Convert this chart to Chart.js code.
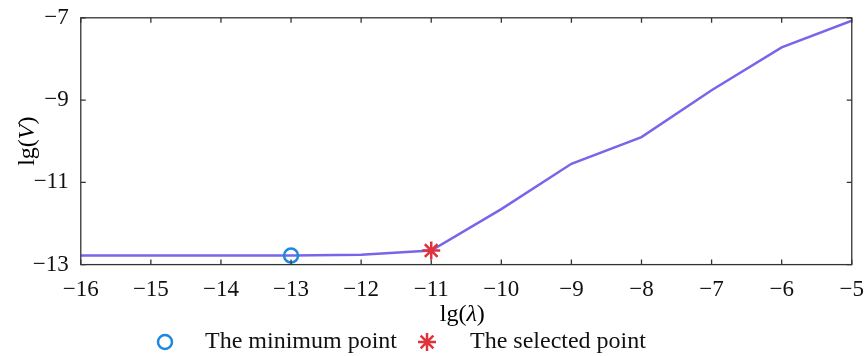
<!DOCTYPE html>
<html lang="en">
<head>
  <meta charset="UTF-8">
  <title>lg(V) vs lg(lambda)</title>
  <style>
    * { margin: 0; padding: 0; }
    body { background: #fff; }
    .chartBox { width: 868px; height: 356px; }
  </style>
</head>
<body>
  <div class="chartBox">
    <canvas id="myChart"></canvas>
  </div>
  <script src="https://cdn.jsdelivr.net/npm/chart.js@4/dist/chart.umd.min.js"></script>
  <script>
    // values
    const lgLambda = [-16, -15, -14, -13, -12, -11, -10, -9, -8, -7, -6, -5];
    const lgV = [-12.78, -12.78, -12.78, -12.78, -12.76, -12.66, -11.65, -10.55, -9.9, -8.76, -7.72, -7.07];
    const minPoint = [{ x: -13, y: -12.78 }];
    const selPoint = [{ x: -11, y: -12.66 }];
    const legendNames = ['The minimum point', 'The selected point'];

    const serif = "'Liberation Serif', 'DejaVu Serif', serif";
    const axisColor = '#333';
    const minus = (v) => String(v).replace('-', '\u2212');

    // draw "lg(λ)" / "lg(V)" with an italic symbol
    let richText = (ctx, parts, x, y) => {
      let total = 0;
      parts.forEach(p => {
        ctx.font = (p[1] ? 'italic ' : '') + '24px ' + serif;
        total += ctx.measureText(p[0]).width;
      });
      let cx = x - total / 2;
      parts.forEach(p => {
        ctx.font = (p[1] ? 'italic ' : '') + '24px ' + serif;
        ctx.fillText(p[0], cx, y);
        cx += ctx.measureText(p[0]).width;
      });
    };

    const boxPlugin = {
      id: 'boxPlugin',
      afterDraw(chart) {
        const ctx = chart.ctx;
        const a = chart.chartArea;
        const xs = chart.scales.x, ys = chart.scales.y;
        ctx.save();
        ctx.strokeStyle = axisColor;
        ctx.lineWidth = 1.3;
        ctx.strokeRect(a.left, a.top, a.right - a.left, a.bottom - a.top);
        ctx.beginPath();
        xs.ticks.forEach(t => {
          const px = xs.getPixelForValue(t.value);
          ctx.moveTo(px, a.bottom); ctx.lineTo(px, a.bottom - 5);
          ctx.moveTo(px, a.top); ctx.lineTo(px, a.top + 5);
        });
        ys.ticks.forEach(t => {
          const py = ys.getPixelForValue(t.value);
          ctx.moveTo(a.left, py); ctx.lineTo(a.left + 5, py);
          ctx.moveTo(a.right, py); ctx.lineTo(a.right - 5, py);
        });
        ctx.stroke();

        // axis titles
        ctx.fillStyle = '#000';
        ctx.textBaseline = 'middle';
        ctx.textAlign = 'left';
        richText(ctx, [['lg(', false], ['\u03bb', true], [')', false]], (a.left + a.right) / 2 - 4, 315);
        ctx.save();
        ctx.translate(28, (a.top + a.bottom) / 2);
        ctx.rotate(-Math.PI / 2);
        richText(ctx, [['lg(', false], ['V', true], [')', false]], 0, 0);
        ctx.restore();

        // legend
        const items = [
          { ds: chart.data.datasets[0], mx: 165, tx: 205 },
          { ds: chart.data.datasets[1], mx: 427, tx: 470 }
        ];
        const ly = 342;
        items.forEach((it, i) => {
          ctx.strokeStyle = it.ds.borderColor;
          ctx.fillStyle = 'rgba(0,0,0,0)';
          ctx.lineWidth = it.ds.borderWidth;
          Chart.helpers.drawPoint(ctx, {
            pointStyle: it.ds.pointStyle,
            radius: it.ds.pointRadius,
            borderWidth: it.ds.borderWidth,
            rotation: 0
          }, it.mx, ly);
          ctx.fillStyle = '#111';
          ctx.font = '24px ' + serif;
          ctx.fillText(legendNames[i], it.tx, ly);
        });
        ctx.restore();
      }
    };

    const data = {
      datasets: [
        {
          label: legendNames[0],
          type: 'scatter',
          data: minPoint,
          pointStyle: 'circle',
          pointRadius: 7,
          borderWidth: 2.5,
          borderColor: '#1e88e0',
          backgroundColor: 'rgba(0,0,0,0)',
          order: 1
        },
        {
          label: legendNames[1],
          type: 'scatter',
          data: selPoint,
          pointStyle: 'star',
          pointRadius: 9,
          borderWidth: 2.5,
          borderColor: '#e0323c',
          backgroundColor: '#e0323c',
          order: 1
        },
        {
          label: 'lg(V)',
          type: 'line',
          data: lgLambda.map((x, i) => ({ x: x, y: lgV[i] })),
          borderColor: '#7766ea',
          borderWidth: 2.5,
          pointRadius: 0,
          tension: 0,
          order: 2
        }
      ]
    };

    const options = {
      responsive: true,
      maintainAspectRatio: false,
      animation: false,
      layout: { padding: { top: 2, right: 16, bottom: 19, left: 0 } },
      plugins: {
        legend: { display: false },
        tooltip: { enabled: false }
      },
      scales: {
        x: {
          type: 'linear',
          min: -16,
          max: -5,
          grid: { display: false },
          border: { display: false },
          ticks: {
            stepSize: 1,
            color: '#111',
            padding: 4,
            font: { family: serif, size: 23 },
            callback: (v) => minus(v)
          },
          title: {
            display: true,
            text: 'lg(\u03bb)',
            color: 'rgba(0,0,0,0)',
            font: { family: serif, size: 24 },
            padding: { top: 0, bottom: 0 }
          }
        },
        y: {
          min: -13,
          max: -7,
          grid: { display: false },
          border: { display: false },
          ticks: {
            stepSize: 2,
            color: '#111',
            padding: 4,
            font: { family: serif, size: 23 },
            callback: (v) => minus(v)
          },
          title: {
            display: true,
            text: 'lg(V)',
            color: 'rgba(0,0,0,0)',
            font: { family: serif, size: 24 },
            padding: { top: 0, bottom: 0 }
          }
        }
      }
    };

    const config = {
      type: 'scatter',
      data: data,
      options: options,
      plugins: [boxPlugin]
    };

    const ctx = document.getElementById('myChart').getContext('2d');
    const myChart = new Chart(ctx, config);
  </script>
</body>
</html>
